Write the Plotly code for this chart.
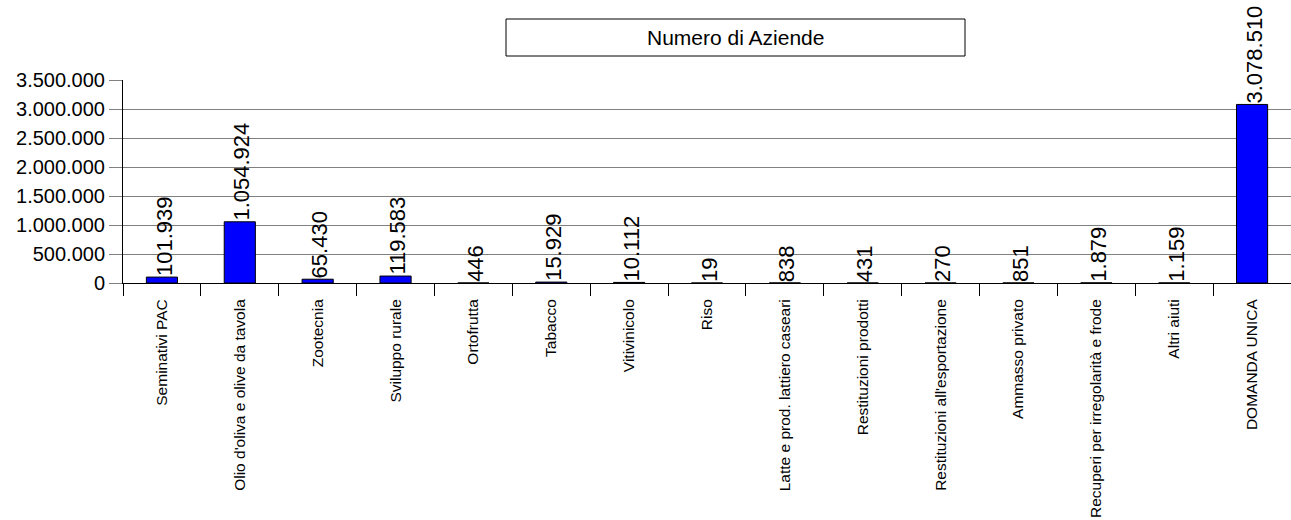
import plotly.graph_objects as go

categories = [
    "Seminativi PAC", "Olio d'oliva e olive da tavola", "Zootecnia", "Sviluppo rurale",
    "Ortofrutta", "Tabacco", "Vitivinicolo", "Riso", "Latte e prod. lattiero caseari",
    "Restituzioni prodotti", "Restituzioni all'esportazione", "Ammasso privato",
    "Recuperi per irregolarità e frode", "Altri aiuti", "DOMANDA UNICA",
]
values = [101939, 1054924, 65430, 119583, 446, 15929, 10112, 19, 838, 431, 270, 851, 1879, 1159, 3078510]
y_ticks = [0, 500000, 1000000, 1500000, 2000000, 2500000, 3000000, 3500000]
title_text = "Numero di Aziende"

FONT = "Liberation Sans, Arial, sans-serif"


def fmt(v):
    return f"{v:,}".replace(",", ".")


fig = go.Figure()
fig.add_trace(go.Bar(
    x=categories, y=values, width=0.4,
    marker=dict(color="#0000FF", line=dict(color="black", width=1)),
    hoverinfo="x+y",
))

for c, v in zip(categories, values):
    fig.add_annotation(
        x=c, y=v, text=fmt(v), textangle=-90, showarrow=False,
        xanchor="center", yanchor="bottom", xshift=2, yshift=-1,
        font=dict(family=FONT, size=22, color="black"),
    )

# title box
bx0, bx1 = (506 - 123) / 1168, (965 - 123) / 1168
by0, by1 = (283 - 56) / 203, (283 - 19) / 203
fig.add_shape(type="rect", xref="paper", yref="paper", x0=bx0, x1=bx1, y0=by0, y1=by1,
              line=dict(color="black", width=1), fillcolor="white")
fig.add_annotation(xref="paper", yref="paper", x=(bx0 + bx1) / 2, y=(by0 + by1) / 2,
                   text=title_text, showarrow=False, xanchor="center", yanchor="middle",
                   font=dict(family=FONT, size=21, color="black"))

fig.update_layout(
    width=1291, height=520,
    margin=dict(l=123, r=0, t=80, b=237, autoexpand=False),
    plot_bgcolor="white", paper_bgcolor="white",
    showlegend=False,
    separators=",.",
    font=dict(family=FONT, color="black"),
)
fig.update_xaxes(
    type="category", tickangle=-90, ticks="outside", tickson="boundaries",
    ticklen=12, tickcolor="black", showline=True, linecolor="black", linewidth=1,
    tickfont=dict(family=FONT, size=15.5, color="black"), showgrid=False,
    automargin=False, ticklabelstandoff=9,
)
fig.update_yaxes(
    range=[0, 3500000], tickvals=y_ticks, ticktext=[fmt(t) for t in y_ticks],
    ticks="outside", ticklen=13, tickcolor="#808080",
    showline=True, linecolor="black", linewidth=1,
    showgrid=True, gridcolor="#808080", gridwidth=1,
    zeroline=False, automargin=False,
    tickfont=dict(family=FONT, size=20, color="black"),
)

fig.write_html("out.html", config={"displayModeBar": False},
               post_script="document.body.style.margin='0';")
